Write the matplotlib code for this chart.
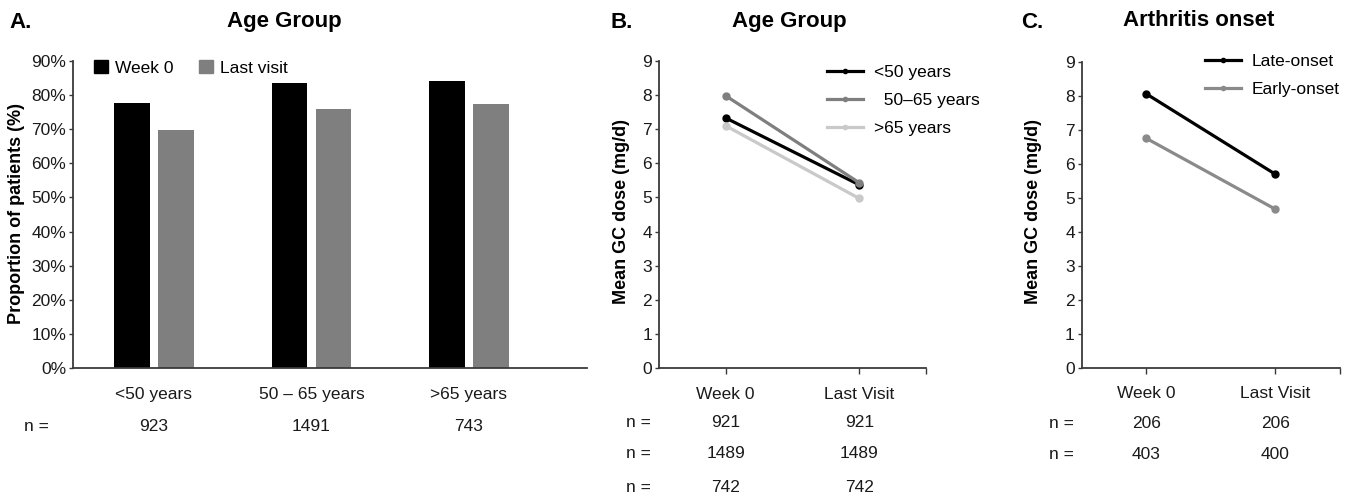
import numpy as np
import matplotlib
matplotlib.use('Agg')
import matplotlib.pyplot as plt
from matplotlib.patches import Patch
from matplotlib.lines import Line2D

plt.rcParams['font.family'] = ['Liberation Sans', 'DejaVu Sans']

# ---- data ----
age_groups = ['<50 years', '50 \u2013 65 years', '>65 years']
prop_week0 = [77.8, 83.5, 84.1]
prop_last = [69.8, 76.0, 77.4]
n_age_a = ['923', '1491', '743']

visits = ['Week 0', 'Last Visit']
dose_lt50 = [7.33, 5.37]
dose_50_65 = [7.98, 5.43]
dose_gt65 = [7.10, 4.97]
n_age_b = [['921', '921'], ['1489', '1489'], ['742', '742']]

dose_late = [8.07, 5.70]
dose_early = [6.76, 4.67]
n_onset = [['206', '206'], ['403', '400']]

W, H = 1354, 497
FS = 12.5
AX_COL = '#3a3a3a'


def px(x, y):
    return x / W, 1 - y / H


def style_axes(ax):
    ax.spines['top'].set_visible(False)
    ax.spines['right'].set_visible(False)
    for s in ('left', 'bottom'):
        ax.spines[s].set_color(AX_COL)
        ax.spines[s].set_linewidth(1.3)
    ax.tick_params(axis='y', direction='out', length=3, width=1, color=AX_COL,
                   labelsize=FS, pad=2, labelcolor='#1a1a1a')


fig = plt.figure(figsize=(W / 100, H / 100), dpi=100)

# ---------------- Panel A ----------------
axA = fig.add_axes([73 / W, 1 - 368 / H, (587 - 73) / W, 307 / H])
x = np.arange(len(age_groups))
bw = 0.225
axA.bar(x - 0.14, prop_week0, bw, color='black')
axA.bar(x + 0.14, prop_last, bw, color='#7f7f7f')
axA.set_xlim(-0.514, 2.75)
axA.set_ylim(0, 90)
axA.set_yticks(np.arange(0, 91, 10))
axA.set_yticklabels([f'{v}%' for v in range(0, 91, 10)])
style_axes(axA)
axA.set_xticks(x)
axA.set_xticklabels(age_groups)
axA.tick_params(axis='x', length=0, labelsize=FS, pad=13.5, labelcolor='#1a1a1a')
for xi, n in zip(x, n_age_a):
    axA.text(xi, -0.19, n, transform=axA.get_xaxis_transform(), ha='center',
             va='center', fontsize=FS, color='#1a1a1a')
axA.text(-0.745, -0.19, 'n =', transform=axA.get_xaxis_transform(), ha='center',
         va='center', fontsize=FS, color='#1a1a1a')
axA.legend(handles=[Patch(color='black', label='Week 0'),
                    Patch(color='#7f7f7f', label='Last visit')],
           loc='upper left', bbox_to_anchor=px(94, 60), bbox_transform=fig.transFigure,
           ncol=2, frameon=False, fontsize=FS, handlelength=0.8, handleheight=0.8,
           handletextpad=0.4, columnspacing=1.5, borderpad=0, borderaxespad=0)
fig.text(*px(17, 214), 'Proportion of patients (%)', rotation=90, ha='center',
         va='center', fontsize=13, fontweight='bold')
fig.text(*px(21, 22), 'A.', ha='center', va='center', fontsize=16, fontweight='bold')
fig.text(*px(284, 21), 'Age Group', ha='center', va='center', fontsize=16,
         fontweight='bold')


# ---------------- Line panels ----------------
def line_panel(rect, series, nrows, nrow_y, leg_xy, ylabel_x, letter_x, title_x,
               letter, title):
    ax = fig.add_axes(rect)
    xs = np.arange(len(visits))
    for vals, col, lab in series:
        ax.plot(xs, vals, color=col, lw=2.3, marker='o', ms=5, label=lab,
                solid_capstyle='round')
    ax.set_xlim(-0.5, 1.5)
    ax.set_ylim(0, 9)
    ax.set_yticks(range(0, 10))
    style_axes(ax)
    ax.set_xticks([0, 1, 1.5])
    ax.set_xticklabels(visits + [''])
    ax.tick_params(axis='x', direction='out', length=4, width=1, color=AX_COL,
                   labelsize=FS, pad=9.5, labelcolor='#1a1a1a')
    tr = ax.get_xaxis_transform()
    for row, yy in zip(nrows, nrow_y):
        ax.text(-0.655, yy, 'n =', transform=tr, ha='center', va='center',
                fontsize=FS, color='#1a1a1a')
        for xi, n in zip(xs, row):
            ax.text(xi, yy, n, transform=tr, ha='center', va='center',
                    fontsize=FS, color='#1a1a1a')
    hs = [Line2D([], [], color=c, lw=2.3, marker='o', ms=3) for _, c, _ in series]
    ax.legend(hs, [s[2] for s in series], loc='upper left', bbox_to_anchor=px(*leg_xy),
              bbox_transform=fig.transFigure, frameon=False, fontsize=FS,
              handlelength=2.1, handletextpad=0.6, labelspacing=0.74, borderpad=0,
              borderaxespad=0)
    fig.text(*px(ylabel_x, 212), 'Mean GC dose (mg/d)', rotation=90, ha='center',
             va='center', fontsize=13, fontweight='bold')
    fig.text(*px(letter_x, 22), letter, ha='center', va='center', fontsize=16,
             fontweight='bold')
    fig.text(*px(title_x, 21), title, ha='center', va='center', fontsize=16,
             fontweight='bold')
    return ax


line_panel([659 / W, 1 - 368 / H, (926 - 659) / W, 307 / H],
           [(dose_gt65, '#c9c9c9', '>65 years'),
            (dose_50_65, '#7f7f7f', '  50\u201365 years'),
            (dose_lt50, 'black', '<50 years')][::-1],
           n_age_b, [-0.179, -0.28, -0.388], (827, 65), 622, 622, 789,
           'B.', 'Age Group')

line_panel([1081.7 / W, 1 - 367.7 / H, (1340 - 1081.7) / W, 305.4 / H],
           [(dose_late, 'black', 'Late-onset'),
            (dose_early, '#8a8a8a', 'Early-onset')],
           n_onset, [-0.182, -0.284], (1205, 54), 1034, 1032, 1199,
           'C.', 'Arthritis onset')

fig.savefig('out.png', dpi=100)
